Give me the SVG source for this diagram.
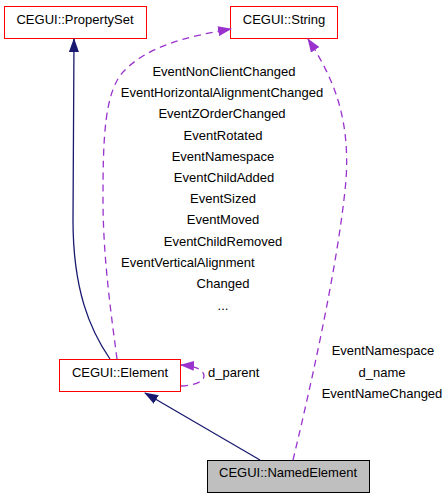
<svg xmlns="http://www.w3.org/2000/svg" width="448" height="499" viewBox="0 0 448 499">
<style>
text{font-family:"Liberation Sans",Arial,sans-serif;font-size:13px;fill:#000}
.c{text-anchor:middle}
.box{fill:#fff;stroke:#ff0000;stroke-width:1}
.nav{fill:none;stroke:#191970;stroke-width:1.3}
.pur{fill:none;stroke:#9a32cd;stroke-width:1.3;stroke-dasharray:7,5}
</style>
<defs>
<marker id="an" markerWidth="14" markerHeight="10" refX="13" refY="5" orient="auto" markerUnits="userSpaceOnUse" viewBox="0 0 14 10"><path d="M0,0L14,5L0,10z" fill="#191970"/></marker>
<marker id="ap" markerWidth="14" markerHeight="10" refX="13" refY="5" orient="auto" markerUnits="userSpaceOnUse" viewBox="0 0 14 10"><path d="M0,0L14,5L0,10z" fill="#9a32cd"/></marker>
</defs>
<g id="node-propertyset"><rect class="box" x="4.5" y="6.5" width="142" height="32"/><text class="c" x="75" y="24">CEGUI::PropertySet</text></g>
<g id="node-string"><rect class="box" x="230.5" y="6.5" width="107" height="32"/><text class="c" x="284" y="24">CEGUI::String</text></g>
<g id="node-element"><rect class="box" x="59.5" y="359.5" width="121" height="32"/><text class="c" x="120" y="377">CEGUI::Element</text></g>
<g id="node-namedelement"><rect x="207.5" y="460.5" width="162" height="32" fill="#bfbfbf" stroke="#000"/><text class="c" x="288" y="477">CEGUI::NamedElement</text></g>
<g id="connectors">
<path class="nav" d="M110,359 C90,330 73,290 73,220 L74,39" marker-end="url(#an)"/>
<path class="nav" d="M260,460 L145,393" marker-end="url(#an)"/>
<path class="pur" d="M117,359 C112,320 103,260 103,200 C103,140 104,90 125,70 C150,45 190,36 231,29" marker-end="url(#ap)"/>
<path class="pur" d="M293,460 C305,410 338,270 346,180 C350,120 335,80 308,39" marker-end="url(#ap)"/>
<path class="pur" d="M181,386 C192,386 204,382 204,376 C204,370 196,366 181,365" marker-end="url(#ap)"/>
</g>
<g id="labels">
<text class="c" x="224" y="76">EventNonClientChanged</text>
<text class="c" x="222" y="97">EventHorizontalAlignmentChanged</text>
<text class="c" x="222" y="118">EventZOrderChanged</text>
<text class="c" x="223" y="140">EventRotated</text>
<text class="c" x="223" y="161">EventNamespace</text>
<text class="c" x="224" y="182">EventChildAdded</text>
<text class="c" x="223" y="203">EventSized</text>
<text class="c" x="223" y="224">EventMoved</text>
<text class="c" x="223" y="246">EventChildRemoved</text>
<text x="121" y="267">EventVerticalAlignment</text>
<text class="c" x="223" y="288">Changed</text>
<text class="c" x="223" y="310">...</text>
<text x="208" y="377">d_parent</text>
<text class="c" x="383" y="355">EventNamespace</text>
<text class="c" x="382" y="377">d_name</text>
<text class="c" x="382" y="398">EventNameChanged</text>
</g>
</svg>
